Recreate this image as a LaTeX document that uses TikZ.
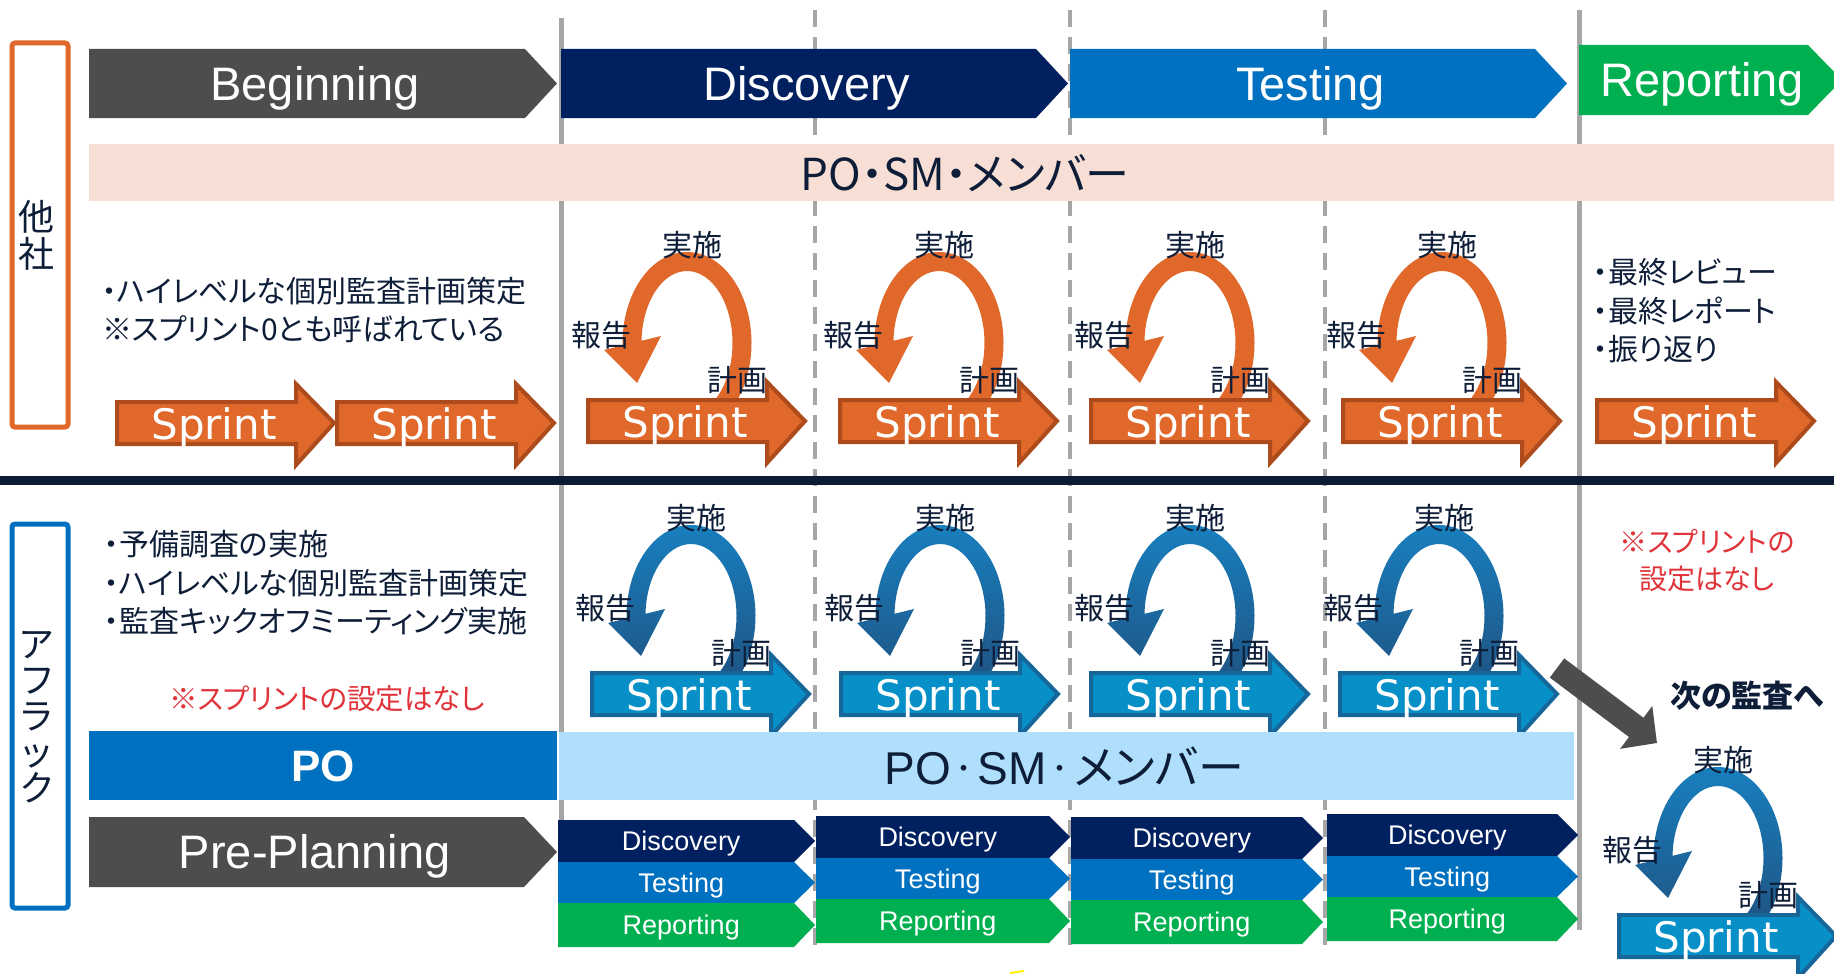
\documentclass[tikz,border=0pt]{standalone}
\usepackage{fontspec}
\setmainfont{Liberation Sans}
\newfontfamily\jp[RawFeature=+palt]{Noto Sans CJK JP}
\newfontfamily\jpf{Noto Sans CJK JP}
\newfontfamily\spr{DejaVu Sans}
\usetikzlibrary{arrows.meta}
\definecolor{cgray}{HTML}{4D4D4D}
\definecolor{cnavy}{HTML}{002060}
\definecolor{cblue}{HTML}{0070C0}
\definecolor{cgreen}{HTML}{00B050}
\definecolor{cpeach}{HTML}{F8DFD5}
\definecolor{clight}{HTML}{AFDFFC}
\definecolor{corange}{HTML}{E0682A}
\definecolor{corangedk}{HTML}{AD4B1C}
\definecolor{csky}{HTML}{0790C8}
\definecolor{cskydk}{HTML}{16669A}
\definecolor{cloopt}{HTML}{1882C2}
\definecolor{cloopb}{HTML}{1F5484}
\definecolor{cline}{HTML}{A6A6A6}
\definecolor{ctext}{HTML}{0E1E38}
\definecolor{cred}{HTML}{E0343A}
\definecolor{cdiv}{HTML}{0C1B33}
\tikzset{
 vline/.style={cline, line width=5},
 dline/.style={cline, line width=3.5, dash pattern=on 17pt off 10pt},
 jtext/.style={text=ctext, font=\jp\fontsize{30}{38.5}\selectfont, inner sep=0pt},
 lbl/.style={text=ctext, font=\jp\fontsize{30}{30}\selectfont, inner sep=0pt},
 sprtext/.style={anchor=base, text=white, font=\spr\fontsize{42}{42}\selectfont, inner sep=0pt},
 ringO/.style={fill=corange}, headO/.style={fill=corange},
 ringB/.style={top color=cloopt, bottom color=cloopb},
 headB/.style={top color=cloopb!54!cloopt, bottom color=cloopb!84!cloopt},
 grayarrow/.style={cgray, line width=24, -{Triangle[length=26pt, width=52pt]}},
}
% chevron: name, x0, tip, y0, y1, depth, color, size, text
\newcommand\Chev[9]{%
 \fill[#7] (#2,#4) -- ({#3-#6},#4) -- (#3,{(#4+#5)/2}) -- ({#3-#6},#5) -- (#2,#5) -- cycle;
 \node[anchor=base, white, inner sep=0pt, font=\fontsize{#8}{#8}\selectfont] (#1) at ({(#2+#3)/2-#6/4},{(#4+#5)/2+0.358*#8}) {#9};}
% stack of three chevrons: name, x0, tip, y0
\newcommand\Stack[4]{%
 \Chev{#1d}{#2}{#3}{#4}{#4+42}{21}{cnavy}{27}{Discovery}
 \Chev{#1t}{#2}{#3}{#4+42}{#4+83}{21}{cblue}{27}{Testing}
 \Chev{#1r}{#2}{#3}{#4+83}{#4+127}{21}{cgreen}{27}{Reporting}}
% sprint arrow: name, bx, by, fill, border
\newcommand\SpArrow[5]{%
 \begin{scope}[shift={(#2,#3)}]
  \draw[fill=#4, draw=#5, line width=4, line join=miter] (0,0) -- (179,0) -- (179,-18) -- (217,21) -- (179,63) -- (179,42) -- (0,42) -- cycle;
 \end{scope}
 \node[sprtext] (#1) at ({#2+97},{#3+37}) {Sprint};}
% loop: name, bx, by, ring style, head style
\newcommand\SpLoop[5]{%
 \begin{scope}[shift={({#2+99},{#3-57})}]
  \path[#4] (42:64.5 and 91) arc[start angle=42,end angle=-185,x radius=64.5,y radius=91]
    -- (-185:45.5 and 72) arc[start angle=-185,end angle=65,x radius=45.5,y radius=72] -- cycle;
  \path[#5] (-83,7) -- (-26,-7) -- (-50,40) -- cycle;
 \end{scope}}
\newcommand\SpLabels[3]{%
 \node[lbl] (#1j) at ({#2+104},{#3-155}) {実施};
 \node[lbl] (#1h) at ({#2+13},{#3-65}) {報告};
 \node[lbl] (#1k) at ({#2+149},{#3-20}) {計画};}
\newcommand\mdot{\raisebox{6pt}{\jpf\fontsize{27}{27}\selectfont ・}}

\begin{document}
\begin{tikzpicture}[x=1pt,y=-1pt]
\useasboundingbox (0,0) rectangle (1834,974);
\clip (0,0) rectangle (1834,974);
\fill[white] (0,0) rectangle (1834,974);

% separators
\draw[vline] (561,18) -- (561,945);
\draw[vline] (1579,10) -- (1579,930);
\foreach \x in {815,1070,1325} \draw[dline] (\x,10) -- (\x,945);
\fill[cdiv] (0,476) rectangle (1834,485);

% phases
\Chev{beg}{89}{557}{49}{118}{32}{cgray}{47}{Beginning}
\Chev{disc}{561}{1068}{49}{118}{32}{cnavy}{47}{Discovery}
\Chev{test}{1070}{1567}{49}{118}{32}{cblue}{47}{Testing}
\Chev{rep}{1579}{1842}{45}{115}{34}{cgreen}{47}{Reporting}

% upper band
\fill[cpeach] (89,144) rectangle (1834,201);
\node[text=ctext, inner sep=0pt, font=\jp\fontsize{44}{44}\selectfont] (band1) at (965,173) {PO・SM・メンバー};

% left labels
\draw[corange, line width=5, rounded corners=3] (12,43) rectangle (68,427);
\node[text=ctext, inner sep=0pt, align=center, font=\jp\fontsize{36}{37}\selectfont] (tasha) at (36,235) {他\\社};
\draw[cblue, line width=5, rounded corners=3] (12,524) rectangle (68,908);
\node[text=ctext, inner sep=0pt, align=center, font=\jp\fontsize{36}{36}\selectfont] (aflac) at (37,717) {ア\\フ\\ラ\\ッ\\ク};

% texts
\node[jtext, anchor=west, align=left] (t1) at (102,310) {・ハイレベルな個別監査計画策定\\※スプリント0とも呼ばれている};
\node[jtext, anchor=west, align=left] (t2) at (1593,311) {・最終レビュー\\・最終レポート\\・振り返り};
\node[jtext, anchor=west, align=left] (t3) at (104,583) {・予備調査の実施\\・ハイレベルな個別監査計画策定\\・監査キックオフミーティング実施};
\node[jtext, text=cred, font=\jp\fontsize{28.5}{28.5}\selectfont] (t4) at (327,699) {※スプリントの設定はなし};
\node[jtext, text=cred, align=center, font=\jp\fontsize{28}{37}\selectfont] (t5) at (1707,561) {※スプリントの\\設定はなし};

% upper sprints
\SpArrow{s1}{117}{402}{corange}{corangedk}
\SpArrow{s2}{337}{402}{corange}{corangedk}
\foreach \b [count=\i] in {588,840,1091,1343}{
  \SpLoop{o\i}{\b}{400}{ringO}{headO}
  \SpArrow{so\i}{\b}{400}{corange}{corangedk}
  \SpLabels{lo\i}{\b}{400}
}
\SpArrow{s7}{1597}{400}{corange}{corangedk}

% lower sprints
\foreach \b [count=\i] in {592,841,1091,1340}{
  \SpLoop{b\i}{\b}{673}{ringB}{headB}
  \SpArrow{sb\i}{\b}{673}{csky}{cskydk}
  \SpLabels{lb\i}{\b}{673}
}
\SpLoop{bn}{1619}{915}{ringB}{headB}
\SpArrow{sbn}{1619}{915}{csky}{cskydk}
\SpLabels{lbn}{1619}{915}

% lower bands
\fill[clight] (559,732) rectangle (1574,800);
\node[text=ctext, inner sep=0pt, font=\fontsize{46}{46}\selectfont] (band2) at (1064,766) {PO\mdot SM\mdot{\jp メンバー}};
\fill[cblue] (89,731) rectangle (557,800);
\node[white, inner sep=0pt, font=\bfseries\fontsize{44}{44}\selectfont] (po) at (323,766) {PO};
\Chev{pre}{89}{557}{817}{887}{33}{cgray}{47}{Pre-Planning}

% stacks
\Stack{k1}{558}{815}{820}
\Stack{k2}{816}{1070}{816}
\Stack{k3}{1071}{1323}{817}
\Stack{k4}{1327}{1578}{814}

% next audit arrow
\coordinate (ga) at (1557,668);
\coordinate (gb) at (1657,743);
\draw[grayarrow] (ga) -- (gb);
\node[text=ctext, inner sep=0pt, font=\jp\bfseries\fontsize{31}{31}\selectfont] (next) at (1747,696) {次の監査へ};
\draw[yellow, line width=2] (1010,973) -- (1024,971);
\end{tikzpicture}
\end{document}
